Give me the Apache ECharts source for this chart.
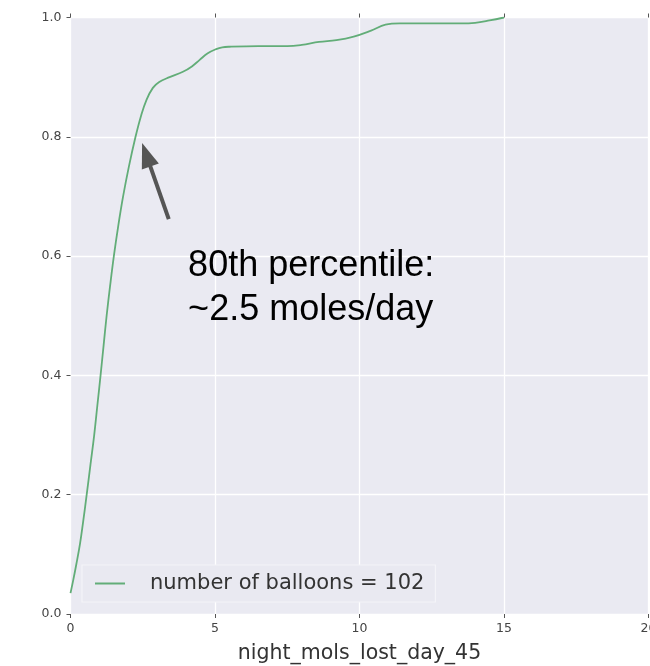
<!DOCTYPE html>
<html>
<head>
<meta charset="utf-8">
<script src="https://cdn.jsdelivr.net/npm/echarts@6/dist/echarts.min.js"></script>
<style>
  html, body { margin: 0; padding: 0; background: #ffffff; }
  #chart { width: 650px; height: 666px; }
</style>
</head>
<body>
<div id="chart"></div>
<script>
// Cumulative share of balloons vs. night moles lost on day 45
var xValues = [0.0, 0.1, 0.2, 0.33, 0.43, 0.56, 0.69, 0.82, 0.93, 1.04, 1.145, 1.25, 1.37, 1.5, 1.65, 1.82, 2.02, 2.25, 2.44, 2.63, 2.85, 3.07, 3.43, 3.89, 4.2, 4.47, 4.75, 5.04, 5.25, 5.5, 6.5, 7.5, 8.0, 8.6, 9.2, 9.8, 10.4, 10.9, 11.4, 12.5, 13.5, 14.0, 14.5, 15.0];
var cdfValues = [0.035, 0.058, 0.083, 0.118, 0.152, 0.2, 0.25, 0.3, 0.35, 0.4, 0.45, 0.5, 0.55, 0.6, 0.65, 0.7, 0.75, 0.8, 0.835, 0.862, 0.882, 0.892, 0.9, 0.909, 0.918, 0.929, 0.94, 0.947, 0.95, 0.951, 0.952, 0.952, 0.954, 0.959, 0.962, 0.968, 0.978, 0.988, 0.99, 0.99, 0.99, 0.991, 0.995, 1.0];

var seriesName = 'number of balloons = 102';
var xAxisTitle = 'night_mols_lost_day_45';
var noteLines = ['80th percentile:', '~2.5 moles/day'];

// Arrow from the note up to the 80th percentile on the curve
var arrowFrom = [3.4, 0.662];
var arrowTo = [2.62, 0.77];
var noteAnchor = [4.07, 0.62];

var curve = xValues.map(function (x, i) { return [x, cdfValues[i]]; });

var tickStyle = { show: true, length: 4, inside: false, lineStyle: { color: '#555', width: 1 } };
var labelFont = { fontFamily: 'DejaVu Sans', fontSize: 12.5, color: '#444' };

var chart = echarts.init(document.getElementById('chart'), null, { renderer: 'canvas' });

chart.setOption({
  animation: false,
  backgroundColor: '#ffffff',
  grid: {
    left: 70.5, right: 1.5, top: 17.5, bottom: 52,
    outerBoundsMode: 'none',
    containLabel: false,
    show: true, backgroundColor: '#EAEAF2', borderWidth: 0
  },
  legend: {
    data: [seriesName],
    left: 82, top: 565,
    orient: 'horizontal',
    padding: [8, 11, 8, 13],
    backgroundColor: '#E9E9F1',
    borderColor: '#F4F4F8',
    borderWidth: 1.2,
    borderRadius: 0,
    icon: 'rect',
    itemWidth: 30, itemHeight: 2,
    textStyle: { fontFamily: 'DejaVu Sans', fontSize: 21, color: '#333', padding: [0, 0, 0, 20] }
  },
  xAxis: [{
    type: 'value', min: 0, max: 20, interval: 5,
    position: 'bottom',
    name: xAxisTitle, nameLocation: 'middle', nameGap: 29,
    nameTextStyle: { fontFamily: 'DejaVu Sans', fontSize: 20.5, color: '#333' },
    axisLine: { show: false },
    axisTick: tickStyle,
    axisLabel: Object.assign({ margin: 8 }, labelFont),
    splitLine: { show: true, lineStyle: { color: '#ffffff', width: 1.3 } }
  }, {
    type: 'value', min: 0, max: 20, interval: 5,
    position: 'top',
    axisLine: { show: false },
    axisTick: tickStyle,
    axisLabel: { show: false },
    splitLine: { show: false }
  }],
  yAxis: {
    type: 'value', min: 0, max: 1, interval: 0.2,
    axisLine: { show: false },
    axisTick: tickStyle,
    axisLabel: Object.assign({ margin: 9, formatter: function (v) { return v.toFixed(1); } }, labelFont),
    splitLine: { show: true, lineStyle: { color: '#ffffff', width: 1.3 } }
  },
  series: [{
    name: seriesName,
    type: 'line',
    data: curve,
    symbol: 'none',
    smooth: 0.4,
    lineStyle: { color: '#62ad78', width: 1.8 },
    itemStyle: { color: '#62ad78' },
    z: 3,
    markLine: {
      silent: true,
      symbol: ['none', 'triangle'],
      symbolSize: [18, 25],
      label: { show: false },
      lineStyle: { color: '#555555', width: 4, type: 'solid' },
      emphasis: { disabled: true },
      data: [[{ coord: arrowFrom }, { coord: arrowTo }]]
    }
  }]
});

var notePos = chart.convertToPixel({ xAxisIndex: 0, yAxisIndex: 0 }, noteAnchor);
chart.setOption({
  graphic: [{
    type: 'text',
    left: notePos[0],
    top: notePos[1],
    silent: true,
    style: {
      text: noteLines.join('\n'),
      font: '36px "Liberation Sans", Arial, sans-serif',
      lineHeight: 44,
      fill: '#000000'
    }
  }]
});
</script>
</body>
</html>
